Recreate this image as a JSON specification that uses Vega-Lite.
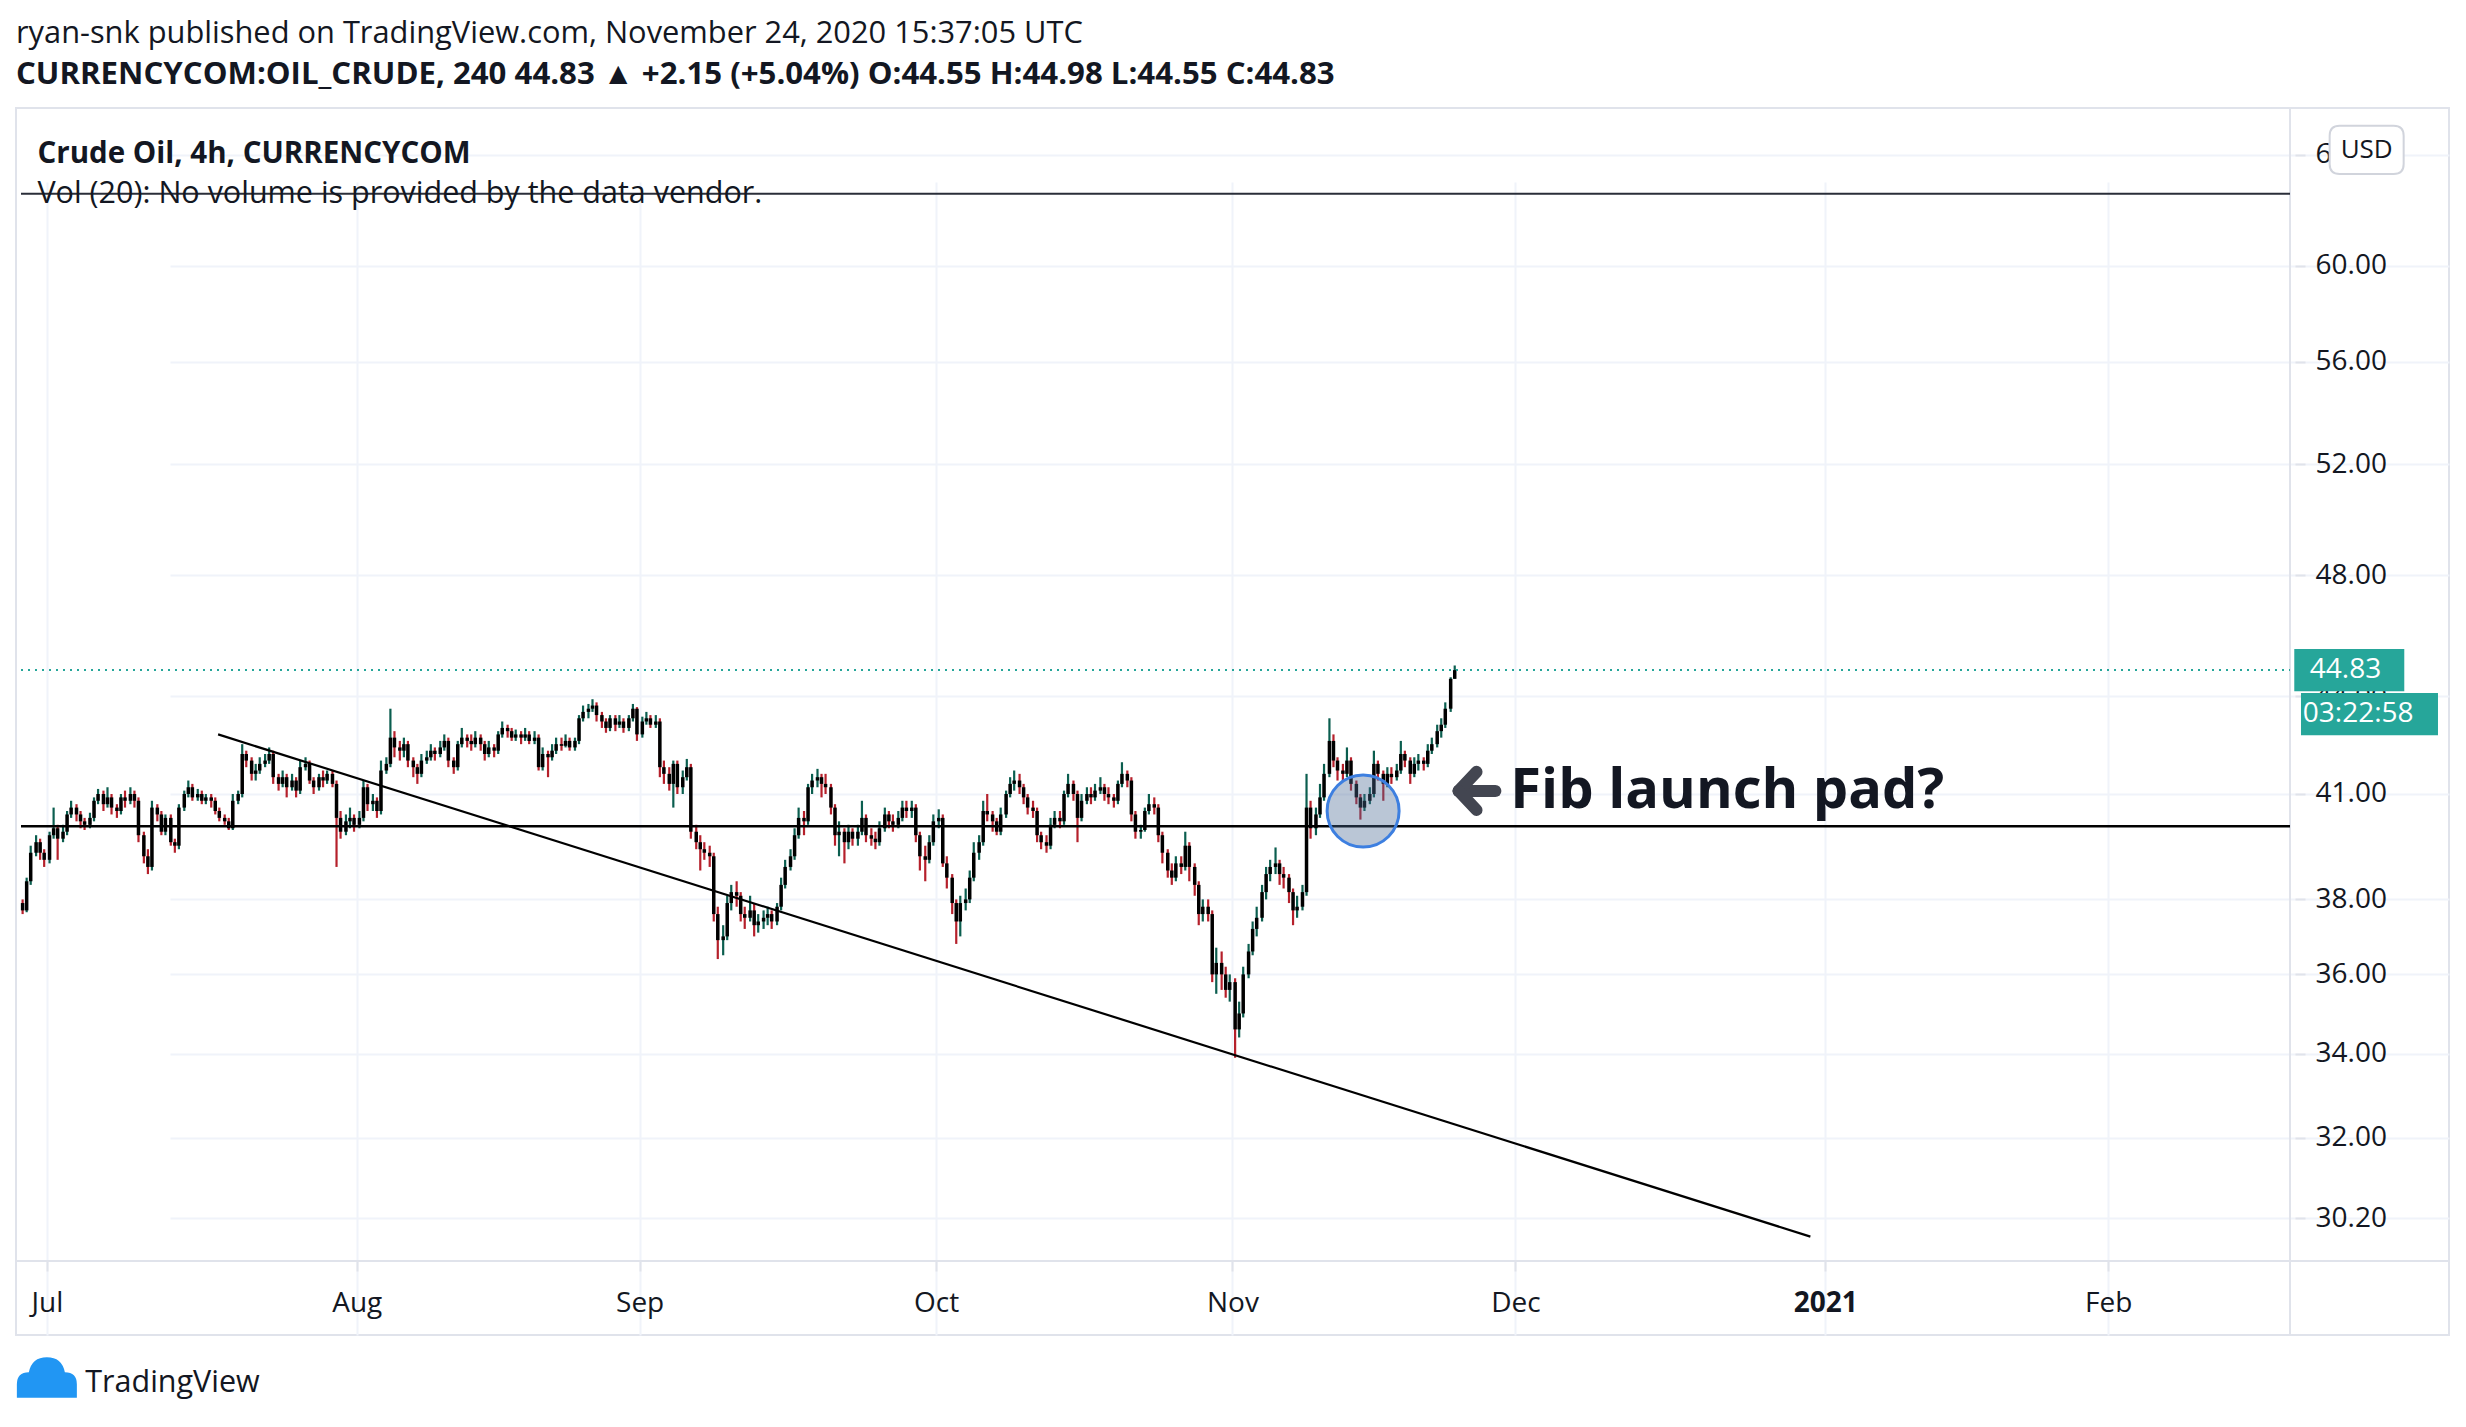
{
"$schema": "https://vega.github.io/schema/vega-lite/v6.json",
"width": 2433, "height": 1227,
"autosize": {"type": "none"},
"padding": {"left": 16, "top": 108, "right": 17, "bottom": 92},
"background": "#ffffff",
"config": {"view": {"stroke": "#e0e3eb", "strokeWidth": 2}, "font": "Open Sans"},
"title": {"text": "ryan-snk published on TradingView.com, November 24, 2020 15:37:05 UTC", "subtitle": "CURRENCYCOM:OIL_CRUDE, 240 44.83 ▲ +2.15 (+5.04%) O:44.55 H:44.98 L:44.55 C:44.83", "anchor": "start", "frame": "group", "offset": 16, "font": "Open Sans", "fontSize": 30.8, "fontWeight": "normal", "color": "#131722", "subtitleFont": "Open Sans", "subtitleFontSize": 31.2, "subtitleFontWeight": "bold", "subtitleColor": "#131722", "subtitlePadding": 9},
"datasets": {"candles": [
{"day":-1.8,"o":37.9,"h":38.0,"l":37.6,"c":37.7},
{"day":-1.5,"o":37.7,"h":38.6,"l":37.65,"c":38.5},
{"day":-1.2,"o":38.5,"h":39.5,"l":38.4,"c":39.3},
{"day":-0.8,"o":39.3,"h":39.8,"l":39.2,"c":39.6},
{"day":-0.5,"o":39.6,"h":39.7,"l":39.1,"c":39.3},
{"day":-0.2,"o":39.3,"h":39.4,"l":38.9,"c":39.1},
{"day":0.2,"o":39.1,"h":39.9,"l":39.0,"c":39.8},
{"day":0.5,"o":39.8,"h":40.6,"l":39.7,"c":40.0},
{"day":0.8,"o":40.0,"h":40.1,"l":39.1,"c":39.7},
{"day":1.2,"o":39.7,"h":40.1,"l":39.6,"c":39.9},
{"day":1.5,"o":39.9,"h":40.5,"l":39.8,"c":40.4},
{"day":1.8,"o":40.4,"h":40.8,"l":40.3,"c":40.6},
{"day":2.2,"o":40.6,"h":40.7,"l":40.2,"c":40.4},
{"day":2.5,"o":40.4,"h":40.5,"l":40.0,"c":40.2},
{"day":2.8,"o":40.2,"h":40.3,"l":39.95,"c":40.1},
{"day":3.2,"o":40.1,"h":40.45,"l":40.0,"c":40.3},
{"day":3.5,"o":40.3,"h":40.9,"l":40.2,"c":40.8},
{"day":3.8,"o":40.8,"h":41.15,"l":40.7,"c":41.0},
{"day":4.2,"o":41.0,"h":41.1,"l":40.5,"c":40.7},
{"day":4.5,"o":40.7,"h":41.2,"l":40.6,"c":40.9},
{"day":4.8,"o":40.9,"h":41.0,"l":40.4,"c":40.6},
{"day":5.2,"o":40.6,"h":40.7,"l":40.3,"c":40.5},
{"day":5.5,"o":40.5,"h":41.0,"l":40.4,"c":40.9},
{"day":5.8,"o":40.9,"h":41.1,"l":40.6,"c":40.8},
{"day":6.2,"o":40.8,"h":41.2,"l":40.7,"c":41.0},
{"day":6.5,"o":41.0,"h":41.1,"l":40.6,"c":40.8},
{"day":6.8,"o":40.8,"h":40.9,"l":39.6,"c":39.8},
{"day":7.2,"o":39.8,"h":39.9,"l":39.0,"c":39.2},
{"day":7.5,"o":39.2,"h":39.4,"l":38.7,"c":38.9},
{"day":7.8,"o":38.9,"h":40.8,"l":38.8,"c":40.6},
{"day":8.2,"o":40.6,"h":40.7,"l":40.2,"c":40.4},
{"day":8.5,"o":40.4,"h":40.5,"l":39.8,"c":39.9},
{"day":8.8,"o":39.9,"h":40.4,"l":39.8,"c":40.3},
{"day":9.2,"o":40.3,"h":40.4,"l":39.5,"c":39.6},
{"day":9.5,"o":39.6,"h":39.7,"l":39.3,"c":39.5},
{"day":9.8,"o":39.5,"h":40.7,"l":39.4,"c":40.6},
{"day":10.2,"o":40.6,"h":41.1,"l":40.5,"c":41.0},
{"day":10.5,"o":41.0,"h":41.4,"l":40.9,"c":41.2},
{"day":10.8,"o":41.2,"h":41.3,"l":40.8,"c":40.9},
{"day":11.2,"o":40.9,"h":41.15,"l":40.8,"c":41.0},
{"day":11.5,"o":41.0,"h":41.1,"l":40.7,"c":40.8},
{"day":11.8,"o":40.8,"h":41.0,"l":40.7,"c":40.9},
{"day":12.2,"o":40.9,"h":41.0,"l":40.6,"c":40.8},
{"day":12.5,"o":40.8,"h":40.9,"l":40.4,"c":40.5},
{"day":12.8,"o":40.5,"h":40.6,"l":40.2,"c":40.3},
{"day":13.2,"o":40.3,"h":40.4,"l":40.1,"c":40.2},
{"day":13.5,"o":40.2,"h":40.3,"l":39.95,"c":40.0},
{"day":13.8,"o":40.0,"h":41.0,"l":39.95,"c":40.8},
{"day":14.2,"o":40.8,"h":41.1,"l":40.7,"c":41.0},
{"day":14.5,"o":41.0,"h":42.5,"l":40.9,"c":42.2},
{"day":14.8,"o":42.2,"h":42.3,"l":41.8,"c":42.0},
{"day":15.2,"o":42.0,"h":42.1,"l":41.4,"c":41.6},
{"day":15.5,"o":41.6,"h":41.9,"l":41.4,"c":41.7},
{"day":15.8,"o":41.7,"h":42.1,"l":41.6,"c":41.9},
{"day":16.2,"o":41.9,"h":42.2,"l":41.8,"c":42.0},
{"day":16.5,"o":42.0,"h":42.4,"l":41.9,"c":42.2},
{"day":16.8,"o":42.2,"h":42.3,"l":41.3,"c":41.5},
{"day":17.2,"o":41.5,"h":41.6,"l":41.1,"c":41.3},
{"day":17.5,"o":41.3,"h":41.7,"l":41.2,"c":41.5},
{"day":17.8,"o":41.5,"h":41.6,"l":40.9,"c":41.2},
{"day":18.2,"o":41.2,"h":41.6,"l":41.1,"c":41.4},
{"day":18.5,"o":41.4,"h":41.5,"l":40.9,"c":41.1},
{"day":18.8,"o":41.1,"h":42.0,"l":41.0,"c":41.8},
{"day":19.2,"o":41.8,"h":42.1,"l":41.7,"c":41.9},
{"day":19.5,"o":41.9,"h":42.0,"l":41.3,"c":41.4},
{"day":19.8,"o":41.4,"h":41.5,"l":41.0,"c":41.2},
{"day":20.2,"o":41.2,"h":41.6,"l":41.1,"c":41.5},
{"day":20.5,"o":41.5,"h":41.7,"l":41.2,"c":41.4},
{"day":20.8,"o":41.4,"h":41.7,"l":41.3,"c":41.6},
{"day":21.2,"o":41.6,"h":41.7,"l":41.2,"c":41.3},
{"day":21.5,"o":41.3,"h":41.4,"l":38.9,"c":40.3},
{"day":21.8,"o":40.3,"h":40.5,"l":39.7,"c":39.9},
{"day":22.2,"o":39.9,"h":40.4,"l":39.8,"c":40.2},
{"day":22.5,"o":40.2,"h":40.6,"l":40.0,"c":40.3},
{"day":22.8,"o":40.3,"h":40.4,"l":39.9,"c":40.1},
{"day":23.2,"o":40.1,"h":40.5,"l":40.0,"c":40.3},
{"day":23.5,"o":40.3,"h":41.4,"l":40.2,"c":41.2},
{"day":23.8,"o":41.2,"h":41.3,"l":40.5,"c":40.7},
{"day":24.2,"o":40.7,"h":41.0,"l":40.5,"c":40.8},
{"day":24.5,"o":40.8,"h":40.9,"l":40.3,"c":40.5},
{"day":24.8,"o":40.5,"h":42.0,"l":40.4,"c":41.7},
{"day":25.2,"o":41.7,"h":42.1,"l":41.6,"c":41.9},
{"day":25.5,"o":41.9,"h":43.6,"l":41.8,"c":42.7},
{"day":25.8,"o":42.7,"h":42.9,"l":42.1,"c":42.4},
{"day":26.2,"o":42.4,"h":42.6,"l":42.0,"c":42.3},
{"day":26.5,"o":42.3,"h":42.7,"l":42.1,"c":42.5},
{"day":26.8,"o":42.5,"h":42.6,"l":41.8,"c":42.0},
{"day":27.2,"o":42.0,"h":42.1,"l":41.5,"c":41.8},
{"day":27.5,"o":41.8,"h":41.9,"l":41.3,"c":41.6},
{"day":27.8,"o":41.6,"h":42.2,"l":41.5,"c":42.0},
{"day":28.2,"o":42.0,"h":42.3,"l":41.9,"c":42.1},
{"day":28.5,"o":42.1,"h":42.5,"l":42.0,"c":42.3},
{"day":28.8,"o":42.3,"h":42.4,"l":42.0,"c":42.2},
{"day":29.2,"o":42.2,"h":42.6,"l":42.1,"c":42.4},
{"day":29.5,"o":42.4,"h":42.8,"l":42.3,"c":42.6},
{"day":29.8,"o":42.6,"h":42.7,"l":41.8,"c":42.0},
{"day":30.2,"o":42.0,"h":42.1,"l":41.6,"c":41.8},
{"day":30.5,"o":41.8,"h":42.6,"l":41.7,"c":42.5},
{"day":30.8,"o":42.5,"h":43.0,"l":42.4,"c":42.7},
{"day":31.2,"o":42.7,"h":42.8,"l":42.4,"c":42.6},
{"day":31.5,"o":42.6,"h":42.8,"l":42.3,"c":42.5},
{"day":31.8,"o":42.5,"h":42.9,"l":42.4,"c":42.7},
{"day":32.2,"o":42.7,"h":42.8,"l":42.3,"c":42.5},
{"day":32.5,"o":42.5,"h":42.6,"l":42.0,"c":42.2},
{"day":32.8,"o":42.2,"h":42.6,"l":42.1,"c":42.4},
{"day":33.2,"o":42.4,"h":42.5,"l":42.1,"c":42.3},
{"day":33.5,"o":42.3,"h":42.9,"l":42.2,"c":42.8},
{"day":33.8,"o":42.8,"h":43.2,"l":42.7,"c":43.0},
{"day":34.2,"o":43.0,"h":43.1,"l":42.7,"c":42.9},
{"day":34.5,"o":42.9,"h":43.0,"l":42.6,"c":42.7},
{"day":34.8,"o":42.7,"h":42.95,"l":42.6,"c":42.8},
{"day":35.2,"o":42.8,"h":42.9,"l":42.5,"c":42.7},
{"day":35.5,"o":42.7,"h":43.0,"l":42.6,"c":42.8},
{"day":35.8,"o":42.8,"h":42.9,"l":42.5,"c":42.6},
{"day":36.2,"o":42.6,"h":42.9,"l":42.5,"c":42.7},
{"day":36.5,"o":42.7,"h":42.8,"l":41.7,"c":41.8},
{"day":36.8,"o":41.8,"h":42.4,"l":41.7,"c":42.2},
{"day":37.2,"o":42.2,"h":42.3,"l":41.5,"c":42.1},
{"day":37.5,"o":42.1,"h":42.5,"l":42.0,"c":42.3},
{"day":37.8,"o":42.3,"h":42.7,"l":42.2,"c":42.5},
{"day":38.2,"o":42.5,"h":42.7,"l":42.3,"c":42.45},
{"day":38.5,"o":42.45,"h":42.8,"l":42.4,"c":42.6},
{"day":38.8,"o":42.6,"h":42.7,"l":42.3,"c":42.4},
{"day":39.2,"o":42.4,"h":42.7,"l":42.3,"c":42.6},
{"day":39.5,"o":42.6,"h":43.4,"l":42.5,"c":43.3},
{"day":39.8,"o":43.3,"h":43.7,"l":43.2,"c":43.5},
{"day":40.2,"o":43.5,"h":43.75,"l":43.3,"c":43.6},
{"day":40.5,"o":43.6,"h":43.9,"l":43.5,"c":43.7},
{"day":40.8,"o":43.7,"h":43.8,"l":43.2,"c":43.4},
{"day":41.2,"o":43.4,"h":43.5,"l":43.0,"c":43.2},
{"day":41.5,"o":43.2,"h":43.3,"l":42.85,"c":43.0},
{"day":41.8,"o":43.0,"h":43.4,"l":42.9,"c":43.3},
{"day":42.2,"o":43.3,"h":43.4,"l":42.9,"c":43.1},
{"day":42.5,"o":43.1,"h":43.4,"l":43.0,"c":43.2},
{"day":42.8,"o":43.2,"h":43.3,"l":42.85,"c":43.0},
{"day":43.2,"o":43.0,"h":43.4,"l":42.9,"c":43.3},
{"day":43.5,"o":43.3,"h":43.75,"l":43.2,"c":43.6},
{"day":43.8,"o":43.6,"h":43.65,"l":42.6,"c":42.8},
{"day":44.2,"o":42.8,"h":43.35,"l":42.7,"c":43.2},
{"day":44.5,"o":43.2,"h":43.5,"l":43.1,"c":43.3},
{"day":44.8,"o":43.3,"h":43.4,"l":43.0,"c":43.1},
{"day":45.2,"o":43.1,"h":43.4,"l":43.0,"c":43.2},
{"day":45.5,"o":43.2,"h":43.3,"l":41.5,"c":41.8},
{"day":45.8,"o":41.8,"h":42.0,"l":41.3,"c":41.6},
{"day":46.2,"o":41.6,"h":41.8,"l":41.1,"c":41.3},
{"day":46.5,"o":41.3,"h":42.0,"l":40.6,"c":41.9},
{"day":46.8,"o":41.9,"h":42.0,"l":41.0,"c":41.2},
{"day":47.2,"o":41.2,"h":41.7,"l":41.0,"c":41.5},
{"day":47.5,"o":41.5,"h":42.05,"l":41.4,"c":41.8},
{"day":47.8,"o":41.8,"h":41.9,"l":39.7,"c":39.9},
{"day":48.2,"o":39.9,"h":40.1,"l":39.4,"c":39.6},
{"day":48.5,"o":39.6,"h":39.8,"l":38.8,"c":39.4},
{"day":48.8,"o":39.4,"h":39.6,"l":39.1,"c":39.3},
{"day":49.2,"o":39.3,"h":39.5,"l":38.9,"c":39.2},
{"day":49.5,"o":39.2,"h":39.3,"l":37.4,"c":37.6},
{"day":49.8,"o":37.6,"h":37.8,"l":36.4,"c":36.9},
{"day":50.2,"o":36.9,"h":37.3,"l":36.5,"c":37.0},
{"day":50.5,"o":37.0,"h":38.1,"l":36.9,"c":37.9},
{"day":50.8,"o":37.9,"h":38.4,"l":37.7,"c":38.2},
{"day":51.2,"o":38.2,"h":38.5,"l":37.8,"c":38.1},
{"day":51.5,"o":38.1,"h":38.2,"l":37.4,"c":37.6},
{"day":51.8,"o":37.6,"h":37.8,"l":37.2,"c":37.5},
{"day":52.2,"o":37.5,"h":38.1,"l":37.4,"c":37.7},
{"day":52.5,"o":37.7,"h":37.9,"l":37.0,"c":37.3},
{"day":52.8,"o":37.3,"h":37.6,"l":37.1,"c":37.4},
{"day":53.2,"o":37.4,"h":37.7,"l":37.2,"c":37.5},
{"day":53.5,"o":37.5,"h":37.8,"l":37.3,"c":37.6},
{"day":53.8,"o":37.6,"h":37.7,"l":37.2,"c":37.4},
{"day":54.2,"o":37.4,"h":37.9,"l":37.3,"c":37.8},
{"day":54.5,"o":37.8,"h":38.6,"l":37.7,"c":38.4},
{"day":54.8,"o":38.4,"h":39.1,"l":38.3,"c":38.9},
{"day":55.2,"o":38.9,"h":39.4,"l":38.8,"c":39.2},
{"day":55.5,"o":39.2,"h":40.0,"l":39.1,"c":39.8},
{"day":55.8,"o":39.8,"h":40.6,"l":39.7,"c":40.3},
{"day":56.2,"o":40.3,"h":40.5,"l":39.8,"c":40.2},
{"day":56.5,"o":40.2,"h":41.3,"l":40.1,"c":41.2},
{"day":56.8,"o":41.2,"h":41.6,"l":41.0,"c":41.4},
{"day":57.2,"o":41.4,"h":41.75,"l":41.2,"c":41.5},
{"day":57.5,"o":41.5,"h":41.6,"l":40.9,"c":41.3},
{"day":57.8,"o":41.3,"h":41.6,"l":41.0,"c":41.2},
{"day":58.2,"o":41.2,"h":41.3,"l":40.4,"c":40.6},
{"day":58.5,"o":40.6,"h":40.7,"l":39.5,"c":39.8},
{"day":58.8,"o":39.8,"h":40.2,"l":39.2,"c":39.9},
{"day":59.2,"o":39.9,"h":40.0,"l":39.0,"c":39.6},
{"day":59.5,"o":39.6,"h":40.1,"l":39.4,"c":39.9},
{"day":59.8,"o":39.9,"h":40.0,"l":39.5,"c":39.7},
{"day":60.2,"o":39.7,"h":40.1,"l":39.5,"c":39.9},
{"day":60.5,"o":39.9,"h":40.8,"l":39.8,"c":40.3},
{"day":60.8,"o":40.3,"h":40.4,"l":39.6,"c":39.8},
{"day":61.2,"o":39.8,"h":40.0,"l":39.5,"c":39.7},
{"day":61.5,"o":39.7,"h":39.9,"l":39.4,"c":39.6},
{"day":61.8,"o":39.6,"h":40.2,"l":39.5,"c":40.0},
{"day":62.2,"o":40.0,"h":40.6,"l":39.9,"c":40.4},
{"day":62.5,"o":40.4,"h":40.5,"l":40.0,"c":40.2},
{"day":62.8,"o":40.2,"h":40.4,"l":39.9,"c":40.1},
{"day":63.2,"o":40.1,"h":40.5,"l":40.0,"c":40.3},
{"day":63.5,"o":40.3,"h":40.8,"l":40.2,"c":40.6},
{"day":63.8,"o":40.6,"h":40.8,"l":40.3,"c":40.5},
{"day":64.2,"o":40.5,"h":40.8,"l":40.3,"c":40.6},
{"day":64.5,"o":40.6,"h":40.7,"l":39.6,"c":39.8},
{"day":64.8,"o":39.8,"h":39.9,"l":38.8,"c":39.2},
{"day":65.2,"o":39.2,"h":39.5,"l":38.5,"c":39.1},
{"day":65.5,"o":39.1,"h":39.8,"l":39.0,"c":39.6},
{"day":65.8,"o":39.6,"h":40.4,"l":39.5,"c":40.2},
{"day":66.2,"o":40.2,"h":40.55,"l":40.0,"c":40.3},
{"day":66.5,"o":40.3,"h":40.4,"l":38.9,"c":39.0},
{"day":66.8,"o":39.0,"h":39.2,"l":38.3,"c":38.6},
{"day":67.2,"o":38.6,"h":38.7,"l":37.6,"c":37.9},
{"day":67.5,"o":37.9,"h":38.0,"l":36.8,"c":37.4},
{"day":67.8,"o":37.4,"h":38.1,"l":37.0,"c":37.9},
{"day":68.2,"o":37.9,"h":38.3,"l":37.7,"c":38.0},
{"day":68.5,"o":38.0,"h":38.8,"l":37.9,"c":38.6},
{"day":68.8,"o":38.6,"h":39.6,"l":38.5,"c":39.3},
{"day":69.2,"o":39.3,"h":39.8,"l":39.1,"c":39.6},
{"day":69.5,"o":39.6,"h":40.8,"l":39.5,"c":40.5},
{"day":69.8,"o":40.5,"h":41.0,"l":40.2,"c":40.4},
{"day":70.2,"o":40.4,"h":40.5,"l":39.9,"c":40.2},
{"day":70.5,"o":40.2,"h":40.3,"l":39.8,"c":39.9},
{"day":70.8,"o":39.9,"h":40.6,"l":39.8,"c":40.4},
{"day":71.2,"o":40.4,"h":41.1,"l":40.3,"c":41.0},
{"day":71.5,"o":41.0,"h":41.5,"l":40.9,"c":41.3},
{"day":71.8,"o":41.3,"h":41.7,"l":41.1,"c":41.4},
{"day":72.2,"o":41.4,"h":41.6,"l":41.0,"c":41.2},
{"day":72.5,"o":41.2,"h":41.3,"l":40.7,"c":40.9},
{"day":72.8,"o":40.9,"h":41.0,"l":40.4,"c":40.6},
{"day":73.2,"o":40.6,"h":40.8,"l":40.3,"c":40.5},
{"day":73.5,"o":40.5,"h":40.6,"l":39.6,"c":39.8},
{"day":73.8,"o":39.8,"h":39.9,"l":39.4,"c":39.6},
{"day":74.2,"o":39.6,"h":39.8,"l":39.3,"c":39.5},
{"day":74.5,"o":39.5,"h":40.3,"l":39.4,"c":40.1},
{"day":74.8,"o":40.1,"h":40.5,"l":40.0,"c":40.3},
{"day":75.2,"o":40.3,"h":40.5,"l":40.0,"c":40.2},
{"day":75.5,"o":40.2,"h":41.1,"l":40.1,"c":41.0},
{"day":75.8,"o":41.0,"h":41.6,"l":40.9,"c":41.3},
{"day":76.2,"o":41.3,"h":41.4,"l":40.8,"c":41.0},
{"day":76.5,"o":41.0,"h":41.1,"l":39.6,"c":40.3},
{"day":76.8,"o":40.3,"h":41.0,"l":40.2,"c":40.8},
{"day":77.2,"o":40.8,"h":41.2,"l":40.7,"c":41.0},
{"day":77.5,"o":41.0,"h":41.2,"l":40.7,"c":40.9},
{"day":77.8,"o":40.9,"h":41.3,"l":40.8,"c":41.1},
{"day":78.2,"o":41.1,"h":41.5,"l":41.0,"c":41.2},
{"day":78.5,"o":41.2,"h":41.3,"l":40.8,"c":41.0},
{"day":78.8,"o":41.0,"h":41.2,"l":40.7,"c":40.9},
{"day":79.2,"o":40.9,"h":41.0,"l":40.6,"c":40.8},
{"day":79.5,"o":40.8,"h":41.4,"l":40.7,"c":41.3},
{"day":79.8,"o":41.3,"h":41.95,"l":41.2,"c":41.6},
{"day":80.2,"o":41.6,"h":41.7,"l":41.2,"c":41.4},
{"day":80.5,"o":41.4,"h":41.5,"l":40.2,"c":40.4},
{"day":80.8,"o":40.4,"h":40.5,"l":39.7,"c":39.9},
{"day":81.2,"o":39.9,"h":40.1,"l":39.7,"c":39.95},
{"day":81.5,"o":39.95,"h":40.6,"l":39.9,"c":40.5},
{"day":81.8,"o":40.5,"h":41.0,"l":40.4,"c":40.7},
{"day":82.2,"o":40.7,"h":40.9,"l":40.4,"c":40.6},
{"day":82.5,"o":40.6,"h":40.7,"l":39.6,"c":39.8},
{"day":82.8,"o":39.8,"h":39.9,"l":39.0,"c":39.3},
{"day":83.2,"o":39.3,"h":39.4,"l":38.6,"c":38.8},
{"day":83.5,"o":38.8,"h":39.0,"l":38.4,"c":38.6},
{"day":83.8,"o":38.6,"h":39.2,"l":38.5,"c":39.0},
{"day":84.2,"o":39.0,"h":39.2,"l":38.7,"c":38.9},
{"day":84.5,"o":38.9,"h":39.9,"l":38.8,"c":39.5},
{"day":84.8,"o":39.5,"h":39.6,"l":38.5,"c":38.9},
{"day":85.2,"o":38.9,"h":39.0,"l":38.1,"c":38.4},
{"day":85.5,"o":38.4,"h":38.5,"l":37.3,"c":37.6},
{"day":85.8,"o":37.6,"h":38.0,"l":37.4,"c":37.8},
{"day":86.2,"o":37.8,"h":38.0,"l":37.4,"c":37.6},
{"day":86.5,"o":37.6,"h":37.7,"l":35.8,"c":36.0},
{"day":86.8,"o":36.0,"h":36.7,"l":35.5,"c":36.3},
{"day":87.2,"o":36.3,"h":36.6,"l":35.6,"c":36.0},
{"day":87.5,"o":36.0,"h":36.2,"l":35.4,"c":35.6},
{"day":87.8,"o":35.6,"h":36.0,"l":35.3,"c":35.8},
{"day":88.2,"o":35.8,"h":35.9,"l":33.9,"c":34.6},
{"day":88.5,"o":34.6,"h":35.3,"l":34.4,"c":35.0},
{"day":88.8,"o":35.0,"h":36.2,"l":34.9,"c":36.0},
{"day":89.2,"o":36.0,"h":36.8,"l":35.9,"c":36.6},
{"day":89.5,"o":36.6,"h":37.4,"l":36.5,"c":37.2},
{"day":89.8,"o":37.2,"h":37.8,"l":37.0,"c":37.5},
{"day":90.2,"o":37.5,"h":38.4,"l":37.4,"c":38.2},
{"day":90.5,"o":38.2,"h":38.9,"l":38.0,"c":38.7},
{"day":90.8,"o":38.7,"h":39.1,"l":38.5,"c":38.9},
{"day":91.2,"o":38.9,"h":39.45,"l":38.7,"c":39.0},
{"day":91.5,"o":39.0,"h":39.1,"l":38.4,"c":38.7},
{"day":91.8,"o":38.7,"h":38.9,"l":38.3,"c":38.6},
{"day":92.2,"o":38.6,"h":38.7,"l":37.9,"c":38.2},
{"day":92.5,"o":38.2,"h":38.3,"l":37.3,"c":37.7},
{"day":92.8,"o":37.7,"h":38.1,"l":37.5,"c":37.8},
{"day":93.2,"o":37.8,"h":38.4,"l":37.7,"c":38.2},
{"day":93.5,"o":38.2,"h":41.6,"l":38.1,"c":40.6},
{"day":93.8,"o":40.6,"h":40.8,"l":39.7,"c":40.0},
{"day":94.2,"o":40.0,"h":40.6,"l":39.8,"c":40.4},
{"day":94.5,"o":40.4,"h":41.3,"l":40.3,"c":40.9},
{"day":94.8,"o":40.9,"h":41.9,"l":40.8,"c":41.6},
{"day":95.2,"o":41.6,"h":43.3,"l":41.5,"c":42.6},
{"day":95.5,"o":42.6,"h":42.8,"l":41.8,"c":42.0},
{"day":95.8,"o":42.0,"h":42.1,"l":41.4,"c":41.7},
{"day":96.2,"o":41.7,"h":41.9,"l":41.4,"c":41.6},
{"day":96.5,"o":41.6,"h":42.4,"l":41.5,"c":42.0},
{"day":96.8,"o":42.0,"h":42.1,"l":41.1,"c":41.3},
{"day":97.2,"o":41.3,"h":41.4,"l":40.7,"c":40.9},
{"day":97.5,"o":40.9,"h":41.0,"l":40.25,"c":40.6},
{"day":97.8,"o":40.6,"h":41.0,"l":40.5,"c":40.8},
{"day":98.2,"o":40.8,"h":41.2,"l":40.7,"c":41.0},
{"day":98.5,"o":41.0,"h":42.3,"l":40.9,"c":41.9},
{"day":98.8,"o":41.9,"h":42.0,"l":41.4,"c":41.6},
{"day":99.2,"o":41.6,"h":41.7,"l":40.8,"c":41.3},
{"day":99.5,"o":41.3,"h":41.8,"l":41.2,"c":41.6},
{"day":99.8,"o":41.6,"h":41.8,"l":41.3,"c":41.5},
{"day":100.2,"o":41.5,"h":41.9,"l":41.4,"c":41.7},
{"day":100.5,"o":41.7,"h":42.6,"l":41.6,"c":42.2},
{"day":100.8,"o":42.2,"h":42.3,"l":41.8,"c":42.0},
{"day":101.2,"o":42.0,"h":42.1,"l":41.3,"c":41.6},
{"day":101.5,"o":41.6,"h":42.1,"l":41.5,"c":41.9},
{"day":101.8,"o":41.9,"h":42.2,"l":41.7,"c":42.0},
{"day":102.2,"o":42.0,"h":42.1,"l":41.7,"c":41.9},
{"day":102.5,"o":41.9,"h":42.5,"l":41.8,"c":42.3},
{"day":102.8,"o":42.3,"h":42.7,"l":42.2,"c":42.5},
{"day":103.2,"o":42.5,"h":43.1,"l":42.4,"c":42.9},
{"day":103.5,"o":42.9,"h":43.3,"l":42.7,"c":43.1},
{"day":103.8,"o":43.1,"h":43.8,"l":43.0,"c":43.6},
{"day":104.2,"o":43.6,"h":44.6,"l":43.5,"c":44.55},
{"day":104.5,"o":44.55,"h":44.98,"l":44.55,"c":44.83}
]},
"layer": [
{"data": {"name": "candles"},
 "mark": {"type": "rule", "strokeWidth": 2.2},
 "encoding": {
  "x": {"field": "day", "type": "quantitative",
        "scale": {"domain": [-1.92, 166.5], "range": [0, 2279], "nice": false, "zero": false},
        "axis": {"title": null, "orient": "bottom", "offset": -74, "values": [0, 23, 44, 66, 88, 109, 132, 153],
                 "labelExpr": "['Jul','Aug','Sep','Oct','Nov','Dec','2021','Feb'][indexof([0,23,44,66,88,109,132,153], datum.value)]",
                 "domain": false, "grid": true, "gridColor": "#f0f3fa", "gridWidth": 2,
                 "ticks": true, "tickSize": 10, "tickColor": "#e0e3eb", "tickWidth": 2,
                 "labelFont": "Open Sans", "labelFontSize": 28, "labelColor": "#131722", "labelPadding": 18,
                 "labelFontWeight": {"condition": {"test": "datum.value === 132", "value": "bold"}, "value": "normal"},
                 "labelFlush": false, "labelOverlap": false}},
  "y": {"field": "l", "type": "quantitative",
        "scale": {"type": "log", "domain": [29.28, 67.23], "range": [1153, 0], "nice": false},
        "axis": {"title": null, "orient": "right", "offset": -154, "values": [30.2, 32, 34, 36, 38, 41, 44, 48, 52, 56, 60, 65],
                 "format": ".2f", "domain": false, "grid": true, "gridColor": "#f0f3fa", "gridWidth": 2,
                 "ticks": true, "tickSize": 10, "tickColor": "#e0e3eb", "tickWidth": 2,
                 "labelFont": "Open Sans", "labelFontSize": 28, "labelColor": "#131722", "labelPadding": 10,
                 "labelFlush": false, "labelOverlap": false}},
  "y2": {"field": "h"},
  "color": {"condition": {"test": "datum.c >= datum.o", "value": "#0b5e4f"}, "value": "#b5202b"}
 }},
{"data": {"name": "candles"},
 "mark": {"type": "bar", "width": 3.5, "color": "#000000"},
 "encoding": {"x": {"field": "day", "type": "quantitative"}, "y": {"field": "o", "type": "quantitative"}, "y2": {"field": "c"}}},
{"data": {"values": [{}]}, "mark": {"type": "rule", "color": "#e0e3eb", "strokeWidth": 2},
 "encoding": {"x": {"datum": 166.5, "type": "quantitative"}}},
{"data": {"values": [{}]}, "mark": {"type": "rule", "color": "#e0e3eb", "strokeWidth": 2},
 "encoding": {"y": {"datum": 29.28, "type": "quantitative"}}},
{"data": {"values": [{}]}, "mark": {"type": "rule", "color": "#000000", "strokeWidth": 2.5},
 "encoding": {"x": {"datum": -1.92, "type": "quantitative"}, "x2": {"datum": 166.5}, "y": {"datum": 40.06, "type": "quantitative"}}},
{"data": {"values": [{}]}, "mark": {"type": "rule", "color": "#2a2e39", "strokeWidth": 2},
 "encoding": {"x": {"datum": -1.92, "type": "quantitative"}, "x2": {"datum": 166.5}, "y": {"datum": 63.2, "type": "quantitative"}}},
{"data": {"values": [{}]}, "mark": {"type": "rule", "color": "#26a69a", "strokeWidth": 2, "strokeDash": [2, 5]},
 "encoding": {"x": {"datum": -1.92, "type": "quantitative"}, "x2": {"datum": 166.5}, "y": {"datum": 44.83, "type": "quantitative"}}},
{"data": {"values": [{}]}, "mark": {"type": "rule", "color": "#000000", "strokeWidth": 2.2},
 "encoding": {"x": {"datum": 12.71, "type": "quantitative"}, "y": {"datum": 42.8, "type": "quantitative"}, "x2": {"datum": 130.9}, "y2": {"datum": 29.8}}},
{"data": {"values": [{}]}, "mark": {"type": "point", "shape": "circle", "size": 5184, "filled": true, "fill": "#4a6a94", "fillOpacity": 0.38, "stroke": "#3d7fe0", "strokeWidth": 3, "strokeOpacity": 1},
 "encoding": {"x": {"datum": 97.7, "type": "quantitative"}, "y": {"datum": 40.5, "type": "quantitative"}}},
{"data": {"values": [{}]}, "mark": {"type": "rule", "color": "#434651", "strokeWidth": 12, "strokeCap": "round"},
 "encoding": {"x": {"datum": 104.79, "type": "quantitative"}, "y": {"datum": 41.09, "type": "quantitative"}, "x2": {"datum": 107.52}, "y2": {"datum": 41.09}}},
{"data": {"values": [{}]}, "mark": {"type": "rule", "color": "#434651", "strokeWidth": 12, "strokeCap": "round"},
 "encoding": {"x": {"datum": 104.79, "type": "quantitative"}, "y": {"datum": 41.09, "type": "quantitative"}, "x2": {"datum": 106.12}, "y2": {"datum": 41.66}}},
{"data": {"values": [{}]}, "mark": {"type": "rule", "color": "#434651", "strokeWidth": 12, "strokeCap": "round"},
 "encoding": {"x": {"datum": 104.79, "type": "quantitative"}, "y": {"datum": 41.09, "type": "quantitative"}, "x2": {"datum": 106.12}, "y2": {"datum": 40.53}}},
{"data": {"values": [{}]}, "mark": {"type": "text", "text": "Fib launch pad?", "align": "left", "baseline": "alphabetic", "font": "Open Sans", "fontSize": 56, "fontWeight": "bold", "color": "#131722"},
 "encoding": {"x": {"datum": 108.63, "type": "quantitative"}, "y": {"datum": 40.59, "type": "quantitative"}}},
{"data": {"values": [{}]}, "mark": {"type": "text", "text": "Crude Oil, 4h, CURRENCYCOM", "align": "left", "baseline": "alphabetic", "font": "Open Sans", "fontSize": 29.5, "fontWeight": "bold", "color": "#131722"},
 "encoding": {"x": {"datum": -0.7, "type": "quantitative"}, "y": {"datum": 64.63, "type": "quantitative"}}},
{"data": {"values": [{}]}, "mark": {"type": "text", "text": "Vol (20): No volume is provided by the data vendor.", "align": "left", "baseline": "alphabetic", "font": "Open Sans", "fontSize": 30.5, "fontWeight": "normal", "color": "#131722"},
 "encoding": {"x": {"datum": -0.7, "type": "quantitative"}, "y": {"datum": 62.8, "type": "quantitative"}}},
{"data": {"values": [{}]}, "mark": {"type": "point", "shape": "M-1,-0.384H1V0.384H-1Z", "size": 12100, "filled": true, "color": "#26a69a", "opacity": 1},
 "encoding": {"x": {"datum": 170.9, "type": "quantitative"}, "y": {"datum": 44.83, "type": "quantitative"}}},
{"data": {"values": [{}]}, "mark": {"type": "point", "shape": "M-1,-0.31H1V0.31H-1Z", "size": 18769, "filled": true, "color": "#26a69a", "opacity": 1},
 "encoding": {"x": {"datum": 172.4, "type": "quantitative"}, "y": {"datum": 43.43, "type": "quantitative"}}},
{"data": {"values": [{}]}, "mark": {"type": "point", "shape": "M-0.73,-0.65H0.73Q1,-0.65 1,-0.38V0.38Q1,0.65 0.73,0.65H-0.73Q-1,0.65 -1,0.38V-0.38Q-1,-0.65 -0.73,-0.65Z", "size": 5476, "filled": true, "fill": "#ffffff", "stroke": "#d1d4dc", "strokeWidth": 2, "opacity": 1},
 "encoding": {"x": {"datum": 172.19, "type": "quantitative"}, "y": {"datum": 65.23, "type": "quantitative"}}},
{"data": {"values": [{}]}, "mark": {"type": "text", "text": "44.83", "align": "left", "baseline": "middle", "font": "Open Sans", "fontSize": 28, "color": "#ffffff"},
 "encoding": {"x": {"datum": 167.97, "type": "quantitative"}, "y": {"datum": 44.83, "type": "quantitative"}}},
{"data": {"values": [{}]}, "mark": {"type": "text", "text": "03:22:58", "align": "left", "baseline": "middle", "font": "Open Sans", "fontSize": 28, "color": "#ffffff"},
 "encoding": {"x": {"datum": 167.45, "type": "quantitative"}, "y": {"datum": 43.43, "type": "quantitative"}}},
{"data": {"values": [{}]}, "mark": {"type": "text", "text": "USD", "align": "center", "baseline": "middle", "font": "Open Sans", "fontSize": 26, "color": "#131722"},
 "encoding": {"x": {"datum": 172.19, "type": "quantitative"}, "y": {"datum": 65.23, "type": "quantitative"}}},
{"data": {"values": [{}]}, "mark": {"type": "point", "shape": "M-1,0.55L-1,0.1Q-1,-0.3 -0.6,-0.3Q-0.5,-0.8 0,-0.8Q0.5,-0.8 0.6,-0.3Q1,-0.3 1,0.1L1,0.55Z", "size": 3600, "filled": true, "color": "#2196f3", "opacity": 1},
 "encoding": {"x": {"datum": 0.0, "type": "quantitative"}, "y": {"datum": 26.85, "type": "quantitative"}}},
{"data": {"values": [{}]}, "mark": {"type": "text", "text": "TradingView", "align": "left", "baseline": "alphabetic", "font": "Open Sans", "fontSize": 30.5, "color": "#131722"},
 "encoding": {"x": {"datum": 2.85, "type": "quantitative"}, "y": {"datum": 26.64, "type": "quantitative"}}}
]
}
